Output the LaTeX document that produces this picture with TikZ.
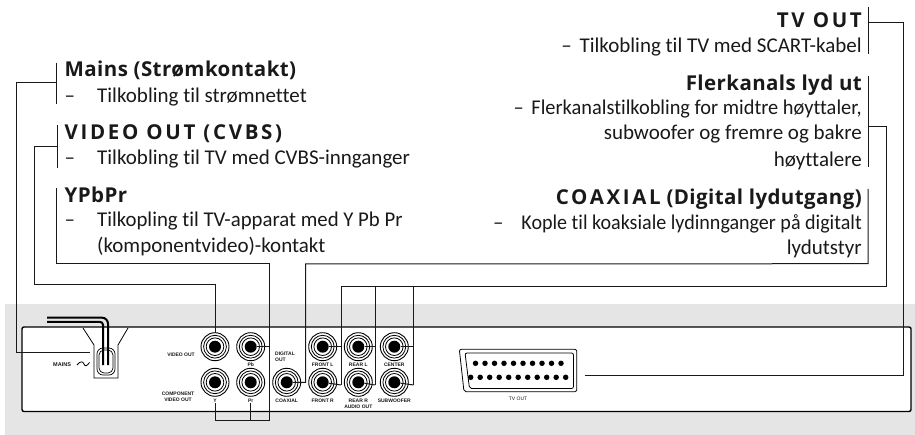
\documentclass[tikz,border=0pt]{standalone}
\usepackage{fontspec}
\setmainfont[Ligatures=NoCommon, Numbers=Lining]{Carlito}
\newfontfamily\headfont[LetterSpace=2]{Open Sans}
\newfontfamily\capsfont[LetterSpace=13]{Open Sans}
\newfontfamily\panelfont{Liberation Sans}
\usetikzlibrary{positioning}
\definecolor{bandgray}{gray}{0.9}
\definecolor{inkblack}{gray}{0.1}
\newcommand{\dashgap}{–\hspace{3pt} }
\tikzset{
    wire/.style={draw=inkblack, line width=1pt},
    heading/.style={anchor=base west, inner sep=0, font=\headfont\bfseries\fontsize{20.5}{21}\selectfont, text=inkblack},
    headingr/.style={heading, anchor=base east},
    body/.style={anchor=base west, inner sep=0, font=\fontsize{21}{21}\selectfont, text=inkblack},
    bodyr/.style={body, anchor=base east},
    jack/.style={circle, fill=black, minimum size=12pt, inner sep=0},
    tiny/.style={inner sep=0, align=center, font=\panelfont\bfseries\fontsize{5}{6}\selectfont, text=inkblack},
    pin/.style={circle, fill=black, minimum size=5.5pt, inner sep=0},
}
\begin{document}
\begin{tikzpicture}[x=1pt, y=-1pt]
\useasboundingbox (0,0) rectangle (915,435);
\fill[bandgray] (5,304) rectangle (915,435);
\draw[fill=white, line width=1.4pt, rounded corners=2pt] (22,327) rectangle (911,411.5);

% text on the left
\node[heading] (mainshead) at (64.5,77) {Mains (Strømkontakt)};
\node[body] (mainsdash) at (64.5,102.7) {–};
\node[body] (mainstext) at (97,102.7) {Tilkobling til strømnettet};
\node[heading] (videohead) at (64.5,140) {\capsfont\bfseries VIDEO OUT (CVBS)};
\node[body] (videodash) at (64.5,165) {–};
\node[body] (videotext) at (97,165) {Tilkobling til TV med CVBS-innganger};
\node[heading] (ypbprhead) at (64.5,203) {YPbPr};
\node[body] (ypbprdash) at (64.5,227) {–};
\node[body] (ypbprtext) at (97,227) {\addfontfeature{FakeStretch=0.99}Tilkopling til TV-apparat med Y Pb Pr};
\node[body] (ypbprtextb) at (97,253) {(komponentvideo)-kontakt};

% text on the right
\node[headingr] (tvhead) at (862,28) {\capsfont\bfseries TV OUT};
\node[bodyr] (tvtext) at (862,53) {\dashgap Tilkobling til TV med SCART-kabel};
\node[headingr] (multihead) at (862,90.7) {Flerkanals lyd ut};
\node[bodyr] (multitext) at (862,115) {\addfontfeature{FakeStretch=0.97}\dashgap Flerkanalstilkobling for midtre høyttaler,};
\node[bodyr] (multitextb) at (862,140) {subwoofer og fremre og bakre};
\node[bodyr] (multitextc) at (862,166.7) {høyttalere};
\node[headingr] (coaxhead) at (862,205) {{\capsfont\bfseries COAXIAL} (Digital lydutgang)};
\node[body] (coaxdash) at (493,230) {–};
\node[bodyr] (coaxtext) at (862,230) {\addfontfeature{FakeStretch=0.955}Kople til koaksiale lydinnganger på digitalt};
\node[bodyr] (coaxtextb) at (862,255) {lydutstyr};

% jacks
\node[jack] (videoj) at (215,346.7) {};
\node[jack] (pbj) at (250.7,346.7) {};
\node[jack] (yj) at (215,382.3) {};
\node[jack] (prj) at (250.7,382.3) {};
\node[jack] (coaxj) at (286.7,382.3) {};
\node[jack] (frontlj) at (322.7,346.7) {};
\node[jack] (frontrj) at (322.7,382.3) {};
\node[jack] (rearlj) at (358.3,346.7) {};
\node[jack] (rearrj) at (358.3,382.3) {};
\node[jack] (centerj) at (394.3,346.7) {};
\node[jack] (subj) at (394.3,382.3) {};
\foreach \j in {videoj,pbj,yj,prj,coaxj,frontlj,frontrj,rearlj,rearrj,centerj,subj}{
    \draw[line width=0.8pt] (\j) circle (8.8);
    \draw[line width=0.8pt] (\j) circle (11.4);
    \draw[line width=0.9pt] (\j) circle (14);
}

% panel labels
\node[tiny, anchor=east] (videolab) at (195,355) {VIDEO OUT};
\node[tiny] (complab) at (178,397) {COMPONENT\\VIDEO OUT};
\node[tiny] (ylab) at (215,400.7) {Y};
\node[tiny] (pblab) at (250.7,364.7) {Pb};
\node[tiny] (prlab) at (250.7,400.7) {Pr};
\node[tiny, align=left, anchor=west] (diglab) at (275,357) {DIGITAL\\OUT};
\node[tiny] (coaxlab) at (286.7,400.7) {COAXIAL};
\node[tiny] (frontllab) at (322.7,364.7) {FRONT L};
\node[tiny] (frontrlab) at (322.7,400.7) {FRONT R};
\node[tiny] (rearllab) at (358.3,364.7) {REAR L};
\node[tiny] (rearrlab) at (358.3,403.5) {REAR R\\AUDIO OUT};
\node[tiny] (centerlab) at (394.3,364.7) {CENTER};
\node[tiny] (sublab) at (394.3,400.7) {SUBWOOFER};
\node[tiny, font=\panelfont\fontsize{5}{6}\selectfont] (scartlab) at (518,399) {TV OUT};
\node[tiny, anchor=west, font=\panelfont\bfseries\fontsize{5.5}{6}\selectfont] (mainslab) at (53,365) {MAINS};
\draw[line width=0.8pt] (77,365) .. controls (80,361) and (83,361) .. (84,364) .. controls (85,367) and (87,366) .. (89.5,362.5);

% mains plug
\draw[line width=0.8pt] (83,328)--(94,345)--(94,378)--(118,378)--(118,345)--(128,328);
\draw[line width=0.7pt, rounded corners=6pt] (97,348) rectangle (115,375);
\draw[line width=0.7pt, rounded corners=5pt] (99,350) rectangle (113,373);
\draw[line width=2pt, rounded corners=6pt] (47,317.7)--(108,317.7)--(108,365);
\draw[line width=2pt, rounded corners=3pt] (47,321.9)--(103,321.9)--(103,365);

% scart
\draw[line width=0.8pt, rounded corners=2pt] (459.3,349.3)--(576.7,349.3)--(576.7,391.7)--(464,391.7)--cycle;
\draw[line width=0.8pt, rounded corners=2pt] (465,353)--(573.5,353)--(573.5,388.5)--(469.5,388.5)--cycle;
\foreach \n in {0,...,9}{
    \node[pin] (scarttop\n) at (475.5+9.5*\n,363.3) {};
}
\foreach \n in {0,...,10}{
    \node[pin] (scartbot\n) at (470.7+9.5*\n,377.3) {};
}

% brackets
\coordinate (mainsa) at (56,62.7);
\coordinate (mainsb) at (56,104);
\coordinate (mainstap) at (56,82.3);
\coordinate (mainsend) at (90,352.3);
\coordinate (videoa) at (57,125);
\coordinate (videob) at (57,168);
\coordinate (videotap) at (57,146.7);
\coordinate (videotop) at (215,332.7);
\coordinate (ypbpra) at (56,188);
\coordinate (ypbprb) at (56,263.5);
\coordinate (tva) at (868,7);
\coordinate (tvb) at (868,54);
\coordinate (tvtap) at (868,22.7);
\coordinate (tvend) at (585,375);
\coordinate (multia) at (868,76);
\coordinate (multib) at (868,167);
\coordinate (multitap) at (868,127);
\coordinate (coaxa) at (868,189);
\coordinate (coaxb) at (868,263.7);
\draw[wire] (mainsa)--(mainsb);
\draw[wire] (videoa)--(videob);
\draw[wire] (tva)--(tvb);
\draw[wire] (multia)--(multib);

% connectors
\draw[wire] (mainstap)--++(-40,0)|-(mainsend);
\draw[wire] (videotap)--(34,146.7)--(34,285)-|(videotop);
\draw[wire] (ypbpra)|-(269.3,263.5)--(269.3,420)-|(ylab.south);
\draw[wire] (250.7,420)--(prlab.south);
\draw[wire] (pbj)--(269.3,346.7);
\draw[wire] (coaxj)-|(305.7,264)--(coaxb)--(coaxa);
\draw[wire] (tvtap)-|(903,375)--(tvend);
\draw[wire] (multitap)-|(886,286.7)-|(341,385);
\draw[wire] (375,286.7)--(375,385);
\draw[wire] (413.5,286.7)--(413.5,385);
\draw[wire] (frontlj)--(341,346.7);
\draw[wire] (frontrj)--(341,385);
\draw[wire] (rearlj)--(375,346.7);
\draw[wire] (rearrj)--(375,385);
\draw[wire] (centerj)--(413.5,346.7);
\draw[wire] (subj)--(413.5,385);
\end{tikzpicture}
\end{document}
